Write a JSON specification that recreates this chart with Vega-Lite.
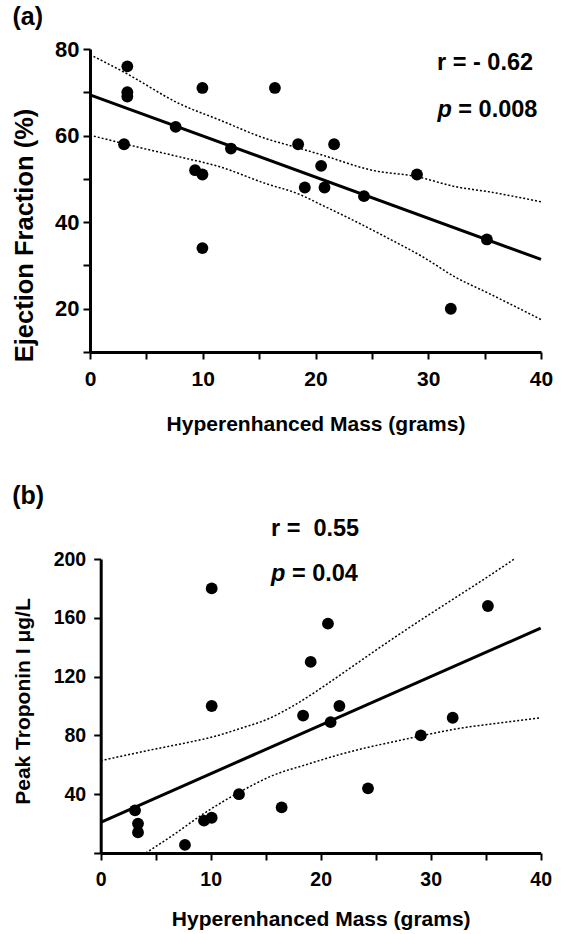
{
  "$schema": "https://vega.github.io/schema/vega-lite/v6.json",
  "background": "white",
  "padding": {"left": 12, "top": 5, "right": 0, "bottom": 0},
  "spacing": 50,
  "config": {
    "view": {"stroke": null},
    "font": "Liberation Sans",
    "axis": {
      "grid": false,
      "domainColor": "black",
      "domainWidth": 3,
      "tickColor": "black",
      "tickWidth": 2,
      "tickSize": 7,
      "labelColor": "black",
      "titleColor": "black",
      "labelFont": "Liberation Sans",
      "titleFont": "Liberation Sans",
      "labelFontWeight": "bold",
      "titleFontWeight": "bold",
      "labelOverlap": false,
      "labelFlush": false
    },
    "title": {"font": "Liberation Sans", "fontWeight": "bold", "color": "black", "anchor": "start", "frame": "bounds"}
  },
  "datasets": {
    "a_pts": [
      {"x": 3.31, "y": 76}, {"x": 3.31, "y": 70}, {"x": 3.31, "y": 69}, {"x": 3.02, "y": 58},
      {"x": 9.97, "y": 71}, {"x": 16.4, "y": 71}, {"x": 7.6, "y": 62}, {"x": 12.5, "y": 57},
      {"x": 9.32, "y": 52}, {"x": 9.97, "y": 51}, {"x": 18.46, "y": 58}, {"x": 21.65, "y": 58},
      {"x": 20.5, "y": 53}, {"x": 19.05, "y": 48}, {"x": 20.8, "y": 48}, {"x": 24.3, "y": 46},
      {"x": 29.0, "y": 51}, {"x": 35.2, "y": 36}, {"x": 32.0, "y": 20}, {"x": 9.97, "y": 34}
    ],
    "a_curves": [
      {"series": "fit", "x": 0, "y": 69.4}, {"series": "fit", "x": 40, "y": 31.4},
      {"series": "upper", "x": 0, "y": 78.7}, {"series": "upper", "x": 3.2, "y": 74.4},
      {"series": "upper", "x": 7.9, "y": 67.4}, {"series": "upper", "x": 11.5, "y": 63.6},
      {"series": "upper", "x": 15.6, "y": 59.3}, {"series": "upper", "x": 18, "y": 57.5},
      {"series": "upper", "x": 20.6, "y": 55.5}, {"series": "upper", "x": 25, "y": 52.0},
      {"series": "upper", "x": 29, "y": 50.5}, {"series": "upper", "x": 32.4, "y": 48.2},
      {"series": "upper", "x": 35.4, "y": 47.0}, {"series": "upper", "x": 40, "y": 44.7},
      {"series": "lower", "x": 0, "y": 60.1}, {"series": "lower", "x": 3.5, "y": 57.8},
      {"series": "lower", "x": 7.9, "y": 55.1}, {"series": "lower", "x": 11.5, "y": 52.8},
      {"series": "lower", "x": 15.6, "y": 48.9}, {"series": "lower", "x": 18.5, "y": 46.5},
      {"series": "lower", "x": 20.6, "y": 43.9}, {"series": "lower", "x": 23.6, "y": 40.1},
      {"series": "lower", "x": 26.5, "y": 36.2}, {"series": "lower", "x": 29.5, "y": 32.0},
      {"series": "lower", "x": 32.4, "y": 27.3}, {"series": "lower", "x": 35.4, "y": 23.5},
      {"series": "lower", "x": 40, "y": 17.5}
    ],
    "a_text": [{"x": 39.3, "y": 75.1, "label": "r = - 0.62"}],
    "a_eq": [{"x": 32.67, "y": 64.35, "label": "= 0.008"}],
    "a_p": [{"x": 30.82, "y": 64.35, "label": "p"}],
    "b_pts": [
      {"x": 10.09, "y": 180}, {"x": 20.66, "y": 156}, {"x": 19.09, "y": 130}, {"x": 35.2, "y": 168},
      {"x": 10.09, "y": 100}, {"x": 18.4, "y": 93.5}, {"x": 21.7, "y": 100}, {"x": 20.9, "y": 89},
      {"x": 32.0, "y": 92}, {"x": 29.1, "y": 80}, {"x": 24.3, "y": 44}, {"x": 12.57, "y": 40},
      {"x": 16.45, "y": 31}, {"x": 3.12, "y": 29}, {"x": 3.39, "y": 20}, {"x": 3.39, "y": 14},
      {"x": 9.39, "y": 22}, {"x": 10.09, "y": 24}, {"x": 7.66, "y": 5.5}
    ],
    "b_curves": [
      {"series": "fit", "x": 0, "y": 20.9}, {"series": "fit", "x": 40, "y": 153},
      {"series": "upper", "x": 0, "y": 62.8}, {"series": "upper", "x": 5, "y": 70.8},
      {"series": "upper", "x": 8, "y": 75.3}, {"series": "upper", "x": 10.2, "y": 79},
      {"series": "upper", "x": 12.6, "y": 84.5}, {"series": "upper", "x": 15.3, "y": 91.5},
      {"series": "upper", "x": 17.7, "y": 101}, {"series": "upper", "x": 20.1, "y": 112.5},
      {"series": "upper", "x": 23, "y": 127.5}, {"series": "upper", "x": 26, "y": 143},
      {"series": "upper", "x": 29, "y": 158}, {"series": "upper", "x": 32, "y": 172.5},
      {"series": "upper", "x": 35, "y": 187}, {"series": "upper", "x": 37.6, "y": 200},
      {"series": "lower", "x": 4.1, "y": 0}, {"series": "lower", "x": 6.5, "y": 11.8},
      {"series": "lower", "x": 9.55, "y": 27.7}, {"series": "lower", "x": 12.6, "y": 41.3},
      {"series": "lower", "x": 15.6, "y": 52.6}, {"series": "lower", "x": 18.9, "y": 60.6},
      {"series": "lower", "x": 21.5, "y": 66.5}, {"series": "lower", "x": 23.8, "y": 71},
      {"series": "lower", "x": 26.5, "y": 75.5}, {"series": "lower", "x": 29.2, "y": 79.8},
      {"series": "lower", "x": 32.3, "y": 84.4}, {"series": "lower", "x": 35.3, "y": 87.6},
      {"series": "lower", "x": 37.1, "y": 89.3}, {"series": "lower", "x": 40, "y": 92}
    ],
    "b_text": [{"x": 15.48, "y": 215.4, "label": "r = \u00a00.55"}],
    "b_eq": [{"x": 17.38, "y": 185.2, "label": "= 0.04"}],
    "b_p": [{"x": 15.48, "y": 185.2, "label": "p"}]
  },
  "vconcat": [
    {
      "title": {"text": "(a)", "fontSize": 25, "offset": 8},
      "width": 451,
      "height": 303,
      "layer": [
        {
          "data": {"name": "a_curves"},
          "transform": [{"filter": "datum.series !== 'fit'"}],
          "mark": {"type": "line", "color": "black", "strokeWidth": 1.5, "strokeDash": [2, 2], "interpolate": "monotone"},
          "encoding": {
            "x": {"field": "x", "type": "quantitative",
              "scale": {"domain": [0, 40], "nice": false, "zero": false},
              "axis": {"values": [0, 2.5, 5, 7.5, 10, 12.5, 15, 17.5, 20, 22.5, 25, 27.5, 30, 32.5, 35, 37.5, 40],
                "labelExpr": "datum.value % 10 === 0 ? datum.label : ''",
                "title": "Hyperenhanced Mass (grams)", "labelFontSize": 21, "titleFontSize": 21,
                "labelPadding": 9, "titlePadding": 24}},
            "y": {"field": "y", "type": "quantitative",
              "scale": {"domain": [10, 80], "nice": false, "zero": false},
              "axis": {"values": [10, 15, 20, 25, 30, 35, 40, 45, 50, 55, 60, 65, 70, 75, 80],
                "labelExpr": "datum.value % 20 === 0 ? datum.label : ''",
                "title": "Ejection Fraction (%)", "labelFontSize": 22, "titleFontSize": 25.5,
                "labelPadding": 4, "titlePadding": 17, "titleY": 186}},
            "detail": {"field": "series"}
          }
        },
        {
          "data": {"name": "a_curves"},
          "transform": [{"filter": "datum.series === 'fit'"}],
          "mark": {"type": "line", "color": "black", "strokeWidth": 3},
          "encoding": {"x": {"field": "x", "type": "quantitative"}, "y": {"field": "y", "type": "quantitative"}}
        },
        {
          "data": {"name": "a_pts"},
          "mark": {"type": "circle", "color": "black", "opacity": 1, "size": 140},
          "encoding": {"x": {"field": "x", "type": "quantitative"}, "y": {"field": "y", "type": "quantitative"}}
        },
        {
          "data": {"name": "a_text"},
          "mark": {"type": "text", "align": "right", "baseline": "alphabetic", "fontSize": 23.5, "fontWeight": "bold", "color": "black"},
          "encoding": {"x": {"field": "x", "type": "quantitative"}, "y": {"field": "y", "type": "quantitative"}, "text": {"field": "label"}}
        },
        {
          "data": {"name": "a_eq"},
          "mark": {"type": "text", "align": "left", "baseline": "alphabetic", "fontSize": 23.5, "fontWeight": "bold", "color": "black"},
          "encoding": {"x": {"field": "x", "type": "quantitative"}, "y": {"field": "y", "type": "quantitative"}, "text": {"field": "label"}}
        },
        {
          "data": {"name": "a_p"},
          "mark": {"type": "text", "align": "left", "baseline": "alphabetic", "fontSize": 23.5, "fontWeight": "bold", "fontStyle": "italic", "color": "black"},
          "encoding": {"x": {"field": "x", "type": "quantitative"}, "y": {"field": "y", "type": "quantitative"}, "text": {"field": "label"}}
        }
      ]
    },
    {
      "title": {"text": "(b)", "fontSize": 25, "offset": 8},
      "width": 451,
      "height": 294,
      "layer": [
        {
          "data": {"name": "b_curves"},
          "transform": [{"filter": "datum.series !== 'fit'"}],
          "mark": {"type": "line", "color": "black", "strokeWidth": 1.5, "strokeDash": [2, 2], "interpolate": "monotone"},
          "encoding": {
            "x": {"field": "x", "type": "quantitative",
              "scale": {"domain": [0, 40], "nice": false, "zero": false, "range": [10.7, 450.7]},
              "axis": {"values": [0, 2.5, 5, 7.5, 10, 12.5, 15, 17.5, 20, 22.5, 25, 27.5, 30, 32.5, 35, 37.5, 40],
                "labelExpr": "datum.value % 10 === 0 ? datum.label : ''",
                "title": "Hyperenhanced Mass (grams)", "labelFontSize": 19.5, "titleFontSize": 21,
                "labelPadding": 10, "titlePadding": 20}},
            "y": {"field": "y", "type": "quantitative",
              "scale": {"domain": [0, 200], "nice": false, "zero": false},
              "axis": {"values": [0, 10, 20, 30, 40, 50, 60, 70, 80, 90, 100, 110, 120, 130, 140, 150, 160, 170, 180, 190, 200],
                "labelExpr": "datum.value % 40 === 0 && datum.value > 0 ? datum.label : ''",
                "title": "Peak Troponin I μg/L", "labelFontSize": 19.5, "titleFontSize": 21,
                "labelPadding": 8, "titlePadding": 20, "offset": -10.7, "titleY": 142}},
            "detail": {"field": "series"}
          }
        },
        {
          "data": {"name": "b_curves"},
          "transform": [{"filter": "datum.series === 'fit'"}],
          "mark": {"type": "line", "color": "black", "strokeWidth": 3},
          "encoding": {"x": {"field": "x", "type": "quantitative"}, "y": {"field": "y", "type": "quantitative"}}
        },
        {
          "data": {"name": "b_pts"},
          "mark": {"type": "circle", "color": "black", "opacity": 1, "size": 140},
          "encoding": {"x": {"field": "x", "type": "quantitative"}, "y": {"field": "y", "type": "quantitative"}}
        },
        {
          "data": {"name": "b_text"},
          "mark": {"type": "text", "align": "left", "baseline": "alphabetic", "fontSize": 23.5, "fontWeight": "bold", "color": "black"},
          "encoding": {"x": {"field": "x", "type": "quantitative"}, "y": {"field": "y", "type": "quantitative"}, "text": {"field": "label"}}
        },
        {
          "data": {"name": "b_eq"},
          "mark": {"type": "text", "align": "left", "baseline": "alphabetic", "fontSize": 23.5, "fontWeight": "bold", "color": "black"},
          "encoding": {"x": {"field": "x", "type": "quantitative"}, "y": {"field": "y", "type": "quantitative"}, "text": {"field": "label"}}
        },
        {
          "data": {"name": "b_p"},
          "mark": {"type": "text", "align": "left", "baseline": "alphabetic", "fontSize": 23.5, "fontWeight": "bold", "fontStyle": "italic", "color": "black"},
          "encoding": {"x": {"field": "x", "type": "quantitative"}, "y": {"field": "y", "type": "quantitative"}, "text": {"field": "label"}}
        }
      ]
    }
  ]
}
